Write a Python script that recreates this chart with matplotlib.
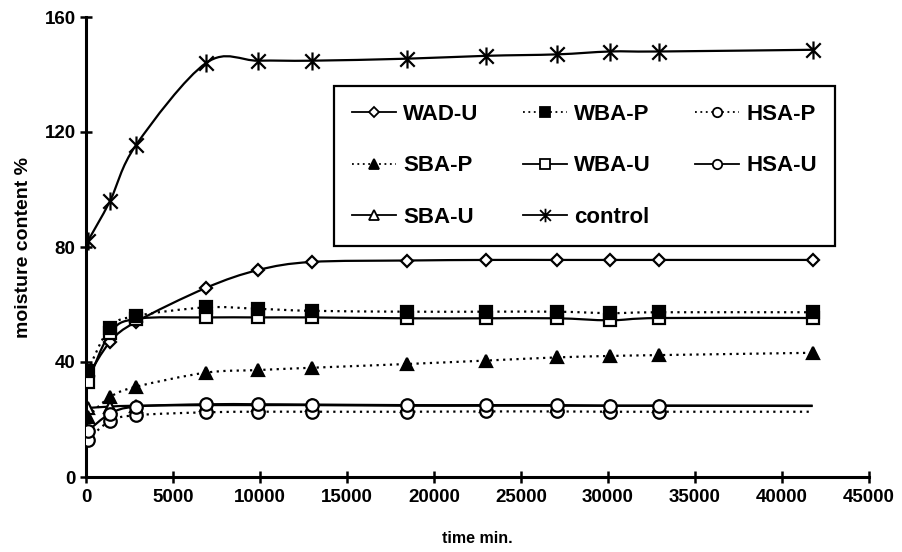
import matplotlib
matplotlib.use("Agg")
import matplotlib.pyplot as plt
from matplotlib.path import Path
from matplotlib.patches import PathPatch
from matplotlib.lines import Line2D
import numpy as np

plt.rcParams['font.family'] = ['Liberation Sans', 'DejaVu Sans']
plt.rcParams['font.weight'] = 'bold'

# sampling times (min)
time_min = [100, 1380, 2880, 6900, 9900, 12960, 18450, 23000, 27070, 30120, 32930, 41760]

# moisture content (%)
wad_u   = [35, 47, 54, 65.8, 72, 74.8, 75.3, 75.5, 75.5, 75.5, 75.5, 75.5]
wba_p   = [37, 52, 56, 59, 58.5, 57.8, 57.5, 57.5, 57.5, 57, 57.3, 57.3]
hsa_p   = [13, 19.5, 21.5, 22.5, 22.7, 22.7, 22.7, 22.8, 22.8, 22.7, 22.7, 22.7]
sba_p   = [21, 27.8, 31.4, 36.3, 37.2, 38, 39.3, 40.5, 41.6, 42.1, 42.4, 43.2]
wba_u   = [33, 50, 55, 55.5, 55.5, 55.5, 55.2, 55.2, 55.2, 54.5, 55.3, 55.3]
hsa_u   = [16, 22, 24.5, 25.3, 25.3, 25.2, 25, 25, 25, 24.8, 24.8, 24.7]
sba_u   = [24, 24.5, 24.8, 25, 25, 25, 24.8, 24.8, 24.8, 24.8, 24.8, 24.8]
control = [82, 96, 115.5, 144, 144.8, 144.8, 145.5, 146.5, 147, 148, 148, 148.6]

x_ticks = [0, 5000, 10000, 15000, 20000, 25000, 30000, 35000, 40000, 45000]
y_ticks = [0, 40, 80, 120, 160]

# six-spoke asterisk: vertical bar plus an X
asterisk = Path([(0, -1), (0, 1), (-0.8, -0.8), (0.8, 0.8), (-0.8, 0.8), (0.8, -0.8)],
                [Path.MOVETO, Path.LINETO, Path.MOVETO, Path.LINETO, Path.MOVETO, Path.LINETO])

dotted = (0, (1, 2))

# label, data, marker, size, filled, linestyle, zorder, last point marked
series = [
    ("WAD-U", wad_u, "D", 6.5, False, "-", 3, True),
    ("SBA-P", sba_p, "^", 9, True, dotted, 3, True),
    ("SBA-U", sba_u, "^", 9, False, "-", 2, False),
    ("WBA-P", wba_p, "s", 9, True, dotted, 4, True),
    ("WBA-U", wba_u, "s", 9, False, "-", 3, True),
    ("control", control, asterisk, 13, True, "-", 3, True),
    ("HSA-P", hsa_p, "o", 9, False, dotted, 4, False),
    ("HSA-U", hsa_u, "o", 9, False, "-", 4, False),
]


def smooth_path(x, y):
    """Cubic Bezier path through the points (Catmull-Rom style tangents)."""
    pts = np.column_stack([x, y]).astype(float)
    n = len(pts)
    verts = [pts[0]]
    codes = [Path.MOVETO]
    for i in range(n - 1):
        p0 = pts[i - 1] if i > 0 else pts[i]
        p1 = pts[i]
        p2 = pts[i + 1]
        p3 = pts[i + 2] if i + 2 < n else pts[i + 1]
        c1 = p1 + (p2 - p0) / 6.0
        c2 = p2 - (p3 - p1) / 6.0
        verts += [c1, c2, p2]
        codes += [Path.CURVE4] * 3
    return Path(verts, codes)


fig = plt.figure(figsize=(9.03, 5.52), dpi=100)
ax = fig.add_axes([86 / 903, 75 / 552, 783 / 903, 460 / 552])

lw = 1.6
handles = {}
for label, vals, mk, ms, filled, ls, z, last in series:
    ax.add_patch(PathPatch(smooth_path(time_min, vals), fill=False, edgecolor="black",
                           linewidth=lw, linestyle=ls, zorder=z))
    mevery = None if last else slice(0, -1)
    ax.plot(time_min, vals, linestyle="none", marker=mk, markersize=ms,
            markerfacecolor="black" if filled else "white",
            markeredgecolor="black", markeredgewidth=1.6,
            markevery=mevery, zorder=z + 0.5)
    handles[label] = Line2D([], [], color="black", linewidth=1.3, linestyle=ls,
                            marker=mk, markersize=ms * 0.75,
                            markerfacecolor="black" if filled else "white",
                            markeredgecolor="black", markeredgewidth=1.3)

ax.set_xlim(0, 45000)
ax.set_ylim(0, 160)
ax.set_xticks(x_ticks)
ax.set_yticks(y_ticks)
ax.tick_params(axis="both", labelsize=13.5, width=1.8, length=9, direction="inout", pad=4)
ax.tick_params(axis="y", pad=3)
for side in ("top", "right"):
    ax.spines[side].set_visible(False)
for side in ("left", "bottom"):
    ax.spines[side].set_linewidth(2.2)

ax.set_xlabel("time min.", fontsize=11.5, fontweight="bold", labelpad=18)
ax.set_ylabel("moisture content %", fontsize=14, fontweight="bold", labelpad=9)

order = ["WAD-U", "SBA-P", "SBA-U", "WBA-P", "WBA-U", "control", "HSA-P", "HSA-U"]
leg = fig.legend([handles[k] for k in order], order, ncol=3,
                 loc="upper left", bbox_to_anchor=(334 / 903, 1 - 86 / 552),
                 bbox_transform=fig.transFigure,
                 fontsize=16, frameon=True, fancybox=False, borderaxespad=0,
                 borderpad=0.8, labelspacing=1.38, handlelength=2.0,
                 handletextpad=0.3, columnspacing=2.0)
leg.get_frame().set_edgecolor("black")
leg.get_frame().set_linewidth(1.6)
leg.get_frame().set_alpha(1)
for t in leg.get_texts():
    t.set_fontweight("bold")

fig.savefig("out.png", dpi=100)
